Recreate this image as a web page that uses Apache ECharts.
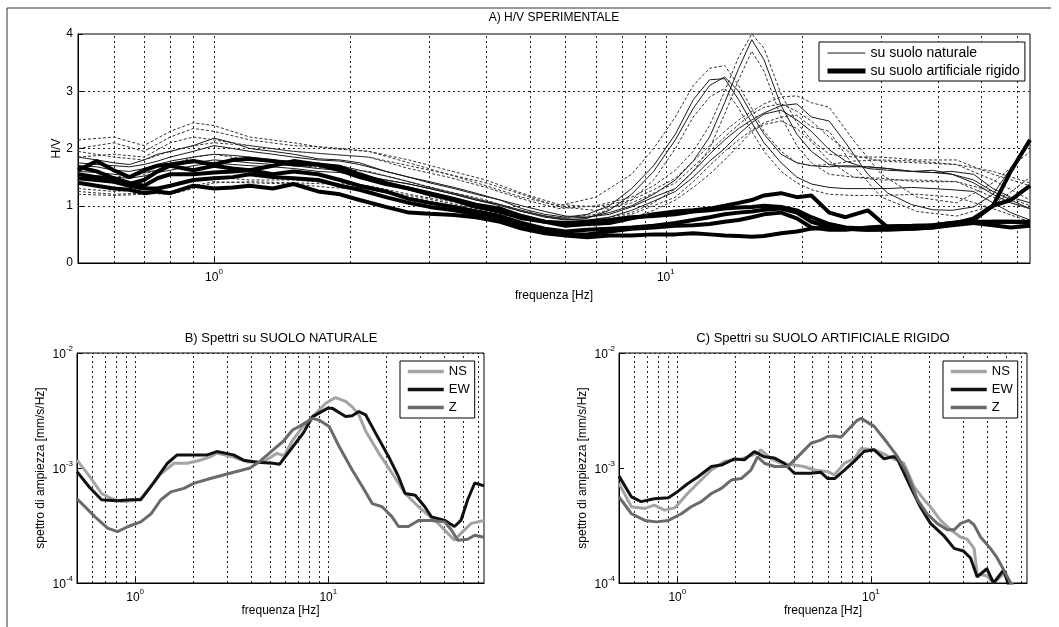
<!DOCTYPE html>
<html><head><meta charset="utf-8">
<script src="https://cdn.jsdelivr.net/npm/echarts@6/dist/echarts.min.js"></script>
<style>html,body{margin:0;padding:0;background:#fff}#c{width:1059px;height:627px}</style>
</head><body><div id="c"></div>
<script>
// ---------- Panel A: H/V ----------
const FREQ = [0.5,0.55,0.6,0.65,0.7,0.75,0.8,0.9,1,1.1,1.2,1.35,1.5,1.7,1.9,2.1,2.4,2.7,3,3.4,3.8,4.3,4.8,5.4,6,6.7,7.5,8.4,9.4,10.5,11.5,12.5,13.5,14.5,15.5,16.5,18,19.5,21,23,25,28,31,35,39,43,48,53,58,64];
// thin solid lines (su suolo naturale)
const NAT_1A = [1.85,1.8,1.75,1.72,1.8,1.9,1.95,2.05,2.18,2.1, 2.0,1.95,1.9,1.82,1.8,1.75,1.6,1.5,1.4,1.3, 1.2,1.1,0.95,0.85,0.8,0.85,1.0,1.3,1.7,2.25, 2.85,3.2,3.22,2.85,2.45,2.1,1.75,1.5,1.38,1.32, 1.3,1.3,1.3,1.32,1.3,1.28,1.25,1.05,0.88,0.75];
const NAT_1B = [1.7,1.68,1.62,1.6,1.65,1.72,1.78,1.85,1.9,1.88, 1.85,1.8,1.78,1.72,1.7,1.62,1.52,1.42,1.32,1.22, 1.12,1.02,0.9,0.8,0.75,0.78,0.92,1.2,1.6,2.15, 2.7,3.1,3.25,3.0,2.6,2.25,1.9,1.75,1.7,1.68, 1.7,1.68,1.65,1.6,1.58,1.55,1.45,1.25,1.1,0.95];
const NAT_2 = [1.6,1.58,1.55,1.52,1.58,1.62,1.7,1.75,1.8,1.78, 1.75,1.72,1.7,1.65,1.62,1.55,1.45,1.38,1.3,1.2, 1.1,1.0,0.9,0.82,0.78,0.8,0.88,1.0,1.2,1.45, 1.78,2.2,2.8,3.4,3.9,3.55,2.75,2.25,1.95,1.72, 1.68,1.68,1.65,1.6,1.58,1.6,1.55,1.3,1.15,1.05];
const NAT_3A = [1.75,1.72,1.7,1.68,1.72,1.78,1.85,1.95,2.05,2.0, 1.95,1.9,1.85,1.8,1.78,1.72,1.6,1.5,1.42,1.32, 1.22,1.1,1.0,0.9,0.82,0.8,0.85,0.98,1.15,1.3, 1.6,1.9,2.15,2.35,2.5,2.62,2.75,2.78,2.55,2.48, 2.1,1.55,1.22,1.02,0.93,0.92,0.98,1.2,1.65,2.1];
const NAT_3B = [1.55,1.52,1.5,1.48,1.52,1.58,1.62,1.7,1.75,1.72, 1.7,1.68,1.65,1.6,1.58,1.52,1.45,1.38,1.3,1.2, 1.1,1.02,0.92,0.82,0.76,0.75,0.8,0.92,1.08,1.25, 1.5,1.78,2.0,2.25,2.45,2.6,2.67,2.5,2.3,1.98, 1.78,1.65,1.62,1.6,1.62,1.55,1.4,1.2,1.05,0.95];
// thin dashed lines (scatter bands of natural-soil H/V)
const FREQ_D = [0.5,0.6,0.7,0.8,0.9,1,1.2,1.5,1.8,2.2,2.7,3.3,4,4.8,5.8,7,8.4,9.4,10.5,11.5,12.5,13.5,14.5,15.5,16.5,18,19.5,21,23,26,30,36,44,53,64];
const DEV_1U = [2.15,2.2,2.05,2.3,2.45,2.4, 2.2,2.1,2.0,1.95,1.75,1.55,1.35,1.15, 1.0,1.15,1.55,2.0,2.55,3.1,3.4,3.45,3.1,2.7, 2.3,1.95,1.75,1.7,1.72,1.78,1.8,1.78,1.72,1.45,1.1];
const DEV_1L = [1.55,1.5,1.55,1.7,1.85,1.9, 1.8,1.72,1.65,1.6,1.42,1.25,1.1,0.9, 0.78,0.85,1.1,1.45,2.0,2.55,2.9,3.05,2.7,2.3, 1.95,1.6,1.4,1.28,1.2,1.18,1.18,1.2,1.15,0.95,0.72];
const DEV_2U = [1.95,1.85,1.8,1.95,2.05,2.1, 2.05,1.95,1.9,1.85,1.65,1.5,1.32,1.12, 0.95,1.0,1.15,1.35,1.62,1.95,2.4,3.0,3.6,4.0, 3.75,2.95,2.45,2.15,1.9,1.85,1.85,1.8,1.8,1.55,1.35];
const DEV_2L = [1.3,1.25,1.28,1.35,1.45,1.5, 1.45,1.45,1.4,1.35,1.2,1.08,0.95,0.8, 0.7,0.75,0.88,1.05,1.3,1.6,2.0,2.6,3.2,3.7, 3.35,2.55,2.05,1.75,1.55,1.5,1.48,1.42,1.42,1.15,0.95];
const DEV_3U = [2.0,2.1,1.95,2.2,2.35,2.3, 2.15,2.05,2.02,1.95,1.8,1.62,1.45,1.22, 1.02,0.98,1.1,1.28,1.48,1.78,2.05,2.3,2.5,2.65, 2.78,2.9,2.92,2.8,2.72,2.15,1.55,1.15,1.05,1.4,1.95];
const DEV_3L = [1.25,1.2,1.22,1.2,1.3,1.4, 1.42,1.4,1.38,1.3,1.18,1.05,0.92,0.78, 0.68,0.72,0.85,1.0,1.15,1.42,1.7,1.95,2.15,2.32, 2.45,2.55,2.58,2.38,2.3,1.7,1.15,0.9,0.82,1.0,1.5];
const DEV_4U = [1.85,1.9,1.85,2.1,2.2,2.15, 2.05,1.95,1.9,1.85,1.7,1.55,1.4,1.2, 0.98,0.92,1.05,1.22,1.4,1.68,1.95,2.2,2.42,2.6, 2.72,2.78,2.65,2.48,2.2,1.88,1.78,1.75,1.72,1.6,1.4];
const DEV_4L = [1.2,1.18,1.2,1.25,1.35,1.42, 1.4,1.38,1.32,1.28,1.15,1.02,0.9,0.78, 0.66,0.65,0.78,0.92,1.1,1.32,1.55,1.8,2.05,2.3, 2.42,2.48,2.35,2.12,1.78,1.5,1.45,1.45,1.42,1.25,1.0];
// thick lines (su suolo artificiale rigido)
const ART_1 = [1.62,1.78,1.62,1.5,1.62,1.7,1.72,1.78,1.72,1.8, 1.82,1.78,1.72,1.72,1.68,1.55,1.4,1.3,1.2,1.1, 0.98,0.9,0.78,0.72,0.7,0.72,0.75,0.8,0.82,0.85, 0.9,0.92,0.95,0.97,0.98,1.0,0.98,0.92,0.8,0.68, 0.62,0.6,0.6,0.62,0.65,0.7,0.75,1.0,1.6,2.15];
const ART_2 = [1.55,1.5,1.45,1.38,1.45,1.6,1.7,1.62,1.7,1.65, 1.62,1.7,1.78,1.72,1.62,1.5,1.38,1.3,1.22,1.12, 1.02,0.95,0.82,0.72,0.65,0.68,0.7,0.78,0.85,0.9, 0.92,0.95,1.0,1.05,1.1,1.18,1.22,1.15,1.18,0.88, 0.8,0.92,0.62,0.6,0.62,0.66,0.7,0.72,0.72,0.7];
const ART_3 = [1.4,1.35,1.3,1.28,1.22,1.25,1.22,1.35,1.3,1.32, 1.35,1.3,1.38,1.25,1.2,1.1,0.98,0.88,0.86,0.84, 0.8,0.72,0.6,0.52,0.48,0.45,0.48,0.48,0.5,0.5, 0.52,0.5,0.48,0.47,0.46,0.47,0.52,0.55,0.6,0.62, 0.6,0.58,0.6,0.62,0.66,0.7,0.7,0.66,0.62,0.65];
const ART_4 = [1.68,1.6,1.48,1.4,1.35,1.48,1.55,1.55,1.58,1.6, 1.62,1.55,1.6,1.55,1.45,1.35,1.25,1.12,1.05,0.98, 0.9,0.82,0.7,0.6,0.55,0.58,0.6,0.62,0.65,0.7, 0.75,0.8,0.85,0.88,0.9,0.93,0.95,0.88,0.72,0.63, 0.6,0.58,0.58,0.6,0.62,0.68,0.78,1.0,1.1,1.35];
const ART_5 = [1.48,1.45,1.42,1.35,1.3,1.3,1.35,1.45,1.48,1.5, 1.55,1.5,1.48,1.45,1.35,1.28,1.15,1.05,0.98,0.92, 0.85,0.78,0.66,0.55,0.5,0.5,0.55,0.6,0.62,0.65, 0.66,0.68,0.72,0.75,0.8,0.85,0.88,0.78,0.62,0.58, 0.58,0.62,0.64,0.65,0.66,0.7,0.72,0.72,0.72,0.72];

// ---------- Panel B: spectra on natural soil ----------
const B_NS_F = [0.5,0.58,0.67,0.76,0.85,0.95,1.07,1.2,1.35,1.59,1.86,2.1,2.45,2.65,3.2,3.8,4.6,5.4,5.9,6.55,7.4,8.3,9.7,10.9,12.3,13.3,14.4,15.6,18.3,21.4,25,29.3,37.1,45,48.6,55,64];
const B_NS_V = [1.17e-3,8.5e-4,6.0e-4,5.4e-4,5.1e-4,5.2e-4,5.4e-4,6.8e-4,8.8e-4,1.1e-3,1.1e-3,1.15e-3,1.25e-3,1.35e-3,1.25e-3,1.13e-3,1.13e-3,1.34e-3,1.28e-3,1.75e-3,2.3e-3,2.8e-3,3.66e-3,4.1e-3,3.8e-3,3.4e-3,2.9e-3,2.1e-3,1.34e-3,9.0e-4,6.0e-4,4.6e-4,3.3e-4,2.35e-4,2.7e-4,3.3e-4,3.5e-4];
const B_EW_F = [0.5,0.58,0.67,0.8,0.95,1.07,1.25,1.47,1.65,2.0,2.36,2.65,3.23,3.64,4.3,5.18,5.6,6.55,7.4,8.3,9.9,10.5,12.3,13.3,14.4,15.6,17.6,20.5,23.1,25,28.2,31.6,34.2,40.2,45,48.6,52.7,57.3,64];
const B_EW_V = [9.3e-4,6.8e-4,5.3e-4,5.2e-4,5.3e-4,5.3e-4,7.5e-4,1.1e-3,1.3e-3,1.3e-3,1.3e-3,1.39e-3,1.3e-3,1.17e-3,1.12e-3,1.1e-3,1.08e-3,1.53e-3,2.0e-3,2.8e-3,3.3e-3,3.3e-3,2.8e-3,2.85e-3,3.1e-3,2.9e-3,2.0e-3,1.26e-3,8.4e-4,6.0e-4,5.8e-4,4.6e-4,3.76e-4,3.5e-4,3.1e-4,3.5e-4,5.3e-4,7.4e-4,7.0e-4];
const B_Z_F = [0.5,0.62,0.72,0.81,0.92,1.07,1.21,1.36,1.53,1.79,2.01,2.45,3.1,3.93,4.42,5.18,5.83,6.55,7.1,8.3,9.0,10.1,11.4,13.3,15,16.9,19,21.4,23.1,26,29.3,34.2,40,43.3,46.8,52.7,57.3,64];
const B_Z_V = [5.4e-4,3.76e-4,3.0e-4,2.8e-4,3.1e-4,3.4e-4,4.0e-4,5.3e-4,6.2e-4,6.65e-4,7.35e-4,8.1e-4,9.0e-4,1.0e-3,1.14e-3,1.44e-3,1.7e-3,2.15e-3,2.3e-3,2.7e-3,2.6e-3,2.3e-3,1.53e-3,9.6e-4,6.9e-4,4.9e-4,4.6e-4,3.76e-4,3.1e-4,3.1e-4,3.5e-4,3.5e-4,3.4e-4,2.9e-4,2.35e-4,2.4e-4,2.6e-4,2.5e-4];

// ---------- Panel C: spectra on rigid artificial soil ----------
const C_NS_F = [0.5,0.58,0.68,0.76,0.86,0.97,1.13,1.28,1.5,1.75,2.14,2.6,2.7,3.05,3.43,4.0,4.5,5.1,6.0,6.47,7.3,8.2,8.9,10.4,11.3,13.1,14.8,16.7,18.8,20.3,22.9,25.9,29.1,31.5,34.1,35.4,39.7,43,48.5,52.7,60];
const C_NS_V = [7.35e-4,4.6e-4,4.45e-4,4.75e-4,4.3e-4,4.5e-4,6.0e-4,7.4e-4,9.6e-4,1.14e-3,1.2e-3,1.34e-3,1.44e-3,1.2e-3,1.1e-3,1.06e-3,1.03e-3,9.6e-4,9.3e-4,8.7e-4,1.1e-3,1.2e-3,1.48e-3,1.44e-3,1.36e-3,1.2e-3,1.1e-3,6.9e-4,5.3e-4,4.6e-4,3.5e-4,2.9e-4,2.5e-4,2.4e-4,2.0e-4,1.2e-4,1.15e-4,1.0e-4,1.2e-4,1.0e-4,8e-5];
const C_EW_F = [0.5,0.58,0.65,0.76,0.9,1.0,1.13,1.28,1.5,1.69,1.97,2.22,2.5,2.82,3.18,3.57,4.02,4.9,5.5,5.98,6.5,7.3,8.2,9.2,10.4,11.7,13.1,13.7,16,18,20.3,23.7,26.9,30,32.7,35.4,39.7,43,48.5,52,60];
const C_EW_V = [8.5e-4,5.6e-4,5.1e-4,5.4e-4,5.5e-4,6.2e-4,7.3e-4,8.4e-4,1.03e-3,1.06e-3,1.2e-3,1.18e-3,1.39e-3,1.25e-3,1.22e-3,1.1e-3,9.0e-4,9.0e-4,9.2e-4,8.1e-4,8.1e-4,9.6e-4,1.14e-3,1.39e-3,1.44e-3,1.2e-3,1.26e-3,1.2e-3,6.9e-4,4.6e-4,3.3e-4,2.6e-4,2.0e-4,1.9e-4,1.65e-4,1.13e-4,1.33e-4,1.0e-4,1.3e-4,9e-5,7e-5];
const C_Z_F = [0.5,0.58,0.68,0.78,0.9,1.05,1.18,1.33,1.5,1.69,1.9,2.14,2.4,2.6,2.82,3.18,3.72,4.02,4.36,4.9,5.5,5.98,6.47,7.0,7.6,8.5,8.9,10.4,12.2,13.7,15.4,17.4,19.5,22,24.8,26.9,29.1,32,34.1,36.9,41.4,44.9,48.5,52.7,60];
const C_Z_V = [5.6e-4,4.0e-4,3.5e-4,3.4e-4,3.5e-4,4.0e-4,4.6e-4,5.1e-4,6.0e-4,6.65e-4,7.85e-4,8.1e-4,9.6e-4,1.25e-3,1.1e-3,1.03e-3,1.03e-3,1.17e-3,1.34e-3,1.64e-3,1.75e-3,1.88e-3,1.9e-3,1.85e-3,2.14e-3,2.6e-3,2.7e-3,2.3e-3,1.64e-3,1.26e-3,9.0e-4,5.3e-4,4.0e-4,3.3e-4,2.9e-4,2.9e-4,3.3e-4,3.5e-4,3.2e-4,2.5e-4,2.0e-4,1.65e-4,1.3e-4,1.0e-4,7e-5];

// ---------- grid line positions (as in the MATLAB figure) ----------
const GRID_F = [0.6,0.7,0.8,0.9,1,2,3,4,5,6,7,8,9,10,20,30,40,50,60];
const GRID_HV = [1,2,3];
const GRID_SPEC = [2e-4,3e-4,4e-4,5e-4,6e-4,7e-4,8e-4,9e-4,1e-3,2e-3,3e-3,4e-3,5e-3,6e-3,7e-3,8e-3,9e-3];

const TITLES = ['A) H/V SPERIMENTALE','B) Spettri su SUOLO NATURALE','C) Spettri su SUOLO ARTIFICIALE RIGIDO'];
const X_NAME = 'frequenza [Hz]';
const Y_NAME_A = 'H/V';
const Y_NAME_SPEC = 'spettro di ampiezza [mm/s/Hz]';
const LEG_A = ['su suolo naturale','su suolo artificiale rigido'];
const LEG_SPEC = ['NS','EW','Z'];

const FONT = "'Liberation Sans', Arial, sans-serif";
const pair = (fs, vs) => fs.map((f, i) => [f, vs[i]]);

function powLabel(v) {
  const e = Math.log10(v);
  const r = Math.round(e);
  if (Math.abs(e - r) > 1e-6) return '';
  return '{b|10}{s|' + r + '}';
}
const RICH = {
  b: {fontSize: 12, color: '#000', fontFamily: FONT, lineHeight: 16, verticalAlign: 'bottom'},
  s: {fontSize: 8, color: '#000', fontFamily: FONT, lineHeight: 9, verticalAlign: 'top'}
};
const AXLINE = {show: true, lineStyle: {color: '#000', width: 1}};

function logX(gi, nameGap) {
  return {
    gridIndex: gi, type: 'log', logBase: 10, min: 0.5, max: 64,
    name: X_NAME, nameLocation: 'middle', nameGap: nameGap, nameMoveOverlap: false,
    nameTextStyle: {fontSize: 12, color: '#000', fontFamily: FONT},
    axisLine: AXLINE, axisTick: {show: true, inside: true, length: 5, lineStyle: {color: '#000'}},
    axisLabel: {formatter: powLabel, rich: RICH, margin: 5, showMinLabel: false, showMaxLabel: false},
    splitLine: {show: false}
  };
}
function logY(gi) {
  return {
    gridIndex: gi, type: 'log', logBase: 10, min: 1e-4, max: 1e-2,
    name: Y_NAME_SPEC, nameLocation: 'middle', nameGap: 30, nameRotate: 90, nameMoveOverlap: false,
    nameTextStyle: {fontSize: 12, color: '#000', fontFamily: FONT},
    axisLine: AXLINE, axisTick: {show: true, inside: true, length: 5, lineStyle: {color: '#000'}},
    axisLabel: {formatter: powLabel, rich: RICH, margin: 4},
    splitLine: {show: false}
  };
}
function gridSeries(xi, yi, ys) {
  const data = GRID_F.map(v => ({xAxis: v})).concat(ys.map(v => ({yAxis: v})));
  return {
    type: 'line', xAxisIndex: xi, yAxisIndex: yi, data: [], silent: true,
    markLine: {silent: true, z: 1, symbol: ['none', 'none'], animation: false,
      label: {show: false}, lineStyle: {color: '#222', type: [2, 3], width: 1}, data: data}
  };
}
function line(name, fs, vs, gi, color, width, type) {
  return {
    name: name, type: 'line', xAxisIndex: gi, yAxisIndex: gi, data: pair(fs, vs),
    symbol: 'none', showSymbol: false, clip: true, z: 3,
    lineStyle: {color: color, width: width, type: type || 'solid'}, itemStyle: {color: color}
  };
}

const series = [
  gridSeries(0, 0, GRID_HV), gridSeries(1, 1, GRID_SPEC), gridSeries(2, 2, GRID_SPEC),
  line(LEG_A[0], FREQ, NAT_1A, 0, '#1a1a1a', 1),
  line(LEG_A[0], FREQ, NAT_1B, 0, '#1a1a1a', 1),
  line(LEG_A[0], FREQ, NAT_2, 0, '#1a1a1a', 1),
  line(LEG_A[0], FREQ, NAT_3A, 0, '#1a1a1a', 1),
  line(LEG_A[0], FREQ, NAT_3B, 0, '#1a1a1a', 1),
  line('dev', FREQ_D, DEV_1U, 0, '#333', 1, [3, 2]),
  line('dev', FREQ_D, DEV_1L, 0, '#333', 1, [3, 2]),
  line('dev', FREQ_D, DEV_2U, 0, '#333', 1, [3, 2]),
  line('dev', FREQ_D, DEV_2L, 0, '#333', 1, [3, 2]),
  line('dev', FREQ_D, DEV_3U, 0, '#333', 1, [3, 2]),
  line('dev', FREQ_D, DEV_3L, 0, '#333', 1, [3, 2]),
  line('dev', FREQ_D, DEV_4U, 0, '#333', 1, [3, 2]),
  line('dev', FREQ_D, DEV_4L, 0, '#333', 1, [3, 2]),
  line(LEG_A[1], FREQ, ART_1, 0, '#000', 4),
  line(LEG_A[1], FREQ, ART_2, 0, '#000', 4),
  line(LEG_A[1], FREQ, ART_3, 0, '#000', 4),
  line(LEG_A[1], FREQ, ART_4, 0, '#000', 4),
  line(LEG_A[1], FREQ, ART_5, 0, '#000', 4),
  line('NS', B_NS_F, B_NS_V, 1, '#a3a3a3', 3),
  line('EW', B_EW_F, B_EW_V, 1, '#111111', 3),
  line('Z', B_Z_F, B_Z_V, 1, '#6a6a6a', 3),
  line('NS', C_NS_F, C_NS_V, 2, '#a3a3a3', 3),
  line('EW', C_EW_F, C_EW_V, 2, '#111111', 3),
  line('Z', C_Z_F, C_Z_V, 2, '#6a6a6a', 3)
];

function legend(data, left, top, itemWidth, itemHeight, gap, fontSize, pad) {
  return {
    data: data, orient: 'vertical', left: left, top: top, selectedMode: false,
    itemWidth: itemWidth, itemHeight: itemHeight, itemGap: gap, padding: pad,
    borderColor: '#000', borderWidth: 1, backgroundColor: '#fff', z: 10,
    itemStyle: {opacity: 0},
    textStyle: {fontSize: fontSize, color: '#000', fontFamily: FONT}
  };
}
const LEG_A_DATA = [
  {name: LEG_A[0], lineStyle: {width: 1, color: '#1a1a1a'}},
  {name: LEG_A[1], lineStyle: {width: 5, color: '#000'}}
];
const LEG_SPEC_DATA = LEG_SPEC.map(n => ({name: n, lineStyle: {width: 3.5}}));

const chart = echarts.init(document.getElementById('c'), null, {renderer: 'canvas'});
chart.setOption({
  animation: false,
  backgroundColor: '#fff',
  textStyle: {fontFamily: FONT},
  grid: [
    {left: 78, top: 34, width: 952, height: 229, show: true, borderColor: '#000', borderWidth: 1, backgroundColor: 'transparent'},
    {left: 77, top: 353, width: 407, height: 230, show: true, borderColor: '#000', borderWidth: 1, backgroundColor: 'transparent'},
    {left: 619, top: 353, width: 408, height: 230, show: true, borderColor: '#000', borderWidth: 1, backgroundColor: 'transparent'}
  ],
  xAxis: [logX(0, 27), logX(1, 22), logX(2, 22)],
  yAxis: [
    {gridIndex: 0, type: 'value', min: 0, max: 4, interval: 1,
     name: Y_NAME_A, nameLocation: 'middle', nameGap: 15, nameRotate: 90, nameMoveOverlap: false,
     nameTextStyle: {fontSize: 12, color: '#000', fontFamily: FONT},
     axisLine: AXLINE, axisTick: {show: true, inside: true, length: 5, lineStyle: {color: '#000'}},
     axisLabel: {fontSize: 12, color: '#000', margin: 5, fontFamily: FONT},
     splitLine: {show: false}},
    logY(1), logY(2)
  ],
  legend: [
    legend(LEG_A_DATA, 819, 42, 38, 12, 4, 14, [4, 5, 3, 6]),
    legend(LEG_SPEC_DATA, 400, 361, 36, 14, 5, 13, [4, 5, 4, 6]),
    legend(LEG_SPEC_DATA, 943, 361, 36, 14, 5, 13, [4, 5, 4, 6])
  ],
  graphic: [
    {type: 'polyline', silent: true, shape: {points: [[7, 640], [7, 8], [1051, 8]]}, style: {stroke: '#333', lineWidth: 1, fill: null}},
    {type: 'text', x: 554, y: 12, style: {text: TITLES[0], font: '12px ' + FONT, fill: '#000', textAlign: 'center'}},
    {type: 'text', x: 281, y: 332, style: {text: TITLES[1], font: '13px ' + FONT, fill: '#000', textAlign: 'center'}},
    {type: 'text', x: 823, y: 332, style: {text: TITLES[2], font: '13px ' + FONT, fill: '#000', textAlign: 'center'}}
  ],
  series: series
});
</script></body></html>
